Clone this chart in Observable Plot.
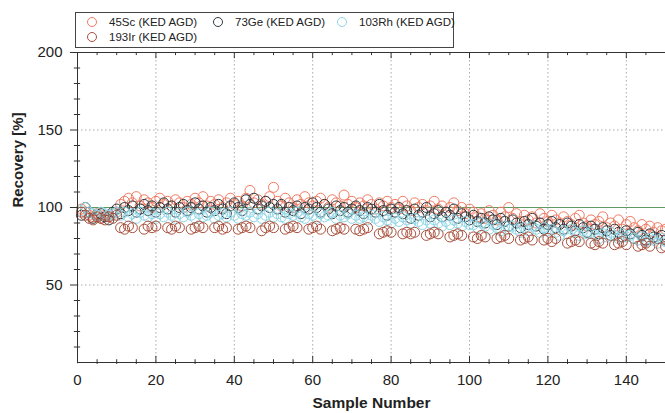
<!DOCTYPE html>
<html>
<head>
<meta charset="utf-8">
<script src="https://cdn.jsdelivr.net/npm/d3@7"></script>
<script src="https://cdn.jsdelivr.net/npm/@observablehq/plot@0.6"></script>
<style>
  body { margin: 0; background: white; font-family: "Liberation Sans", Arial, sans-serif; }
  #wrap { position: relative; width: 665px; height: 413px; overflow: hidden; }
  #legend { position: absolute; left: 75px; top: 12px; width: 377px; height: 34px; border: 1px solid #444; background: white; font-size: 11.5px; color: #222; }
  .item { position: absolute; display: flex; align-items: center; height: 14px; white-space: nowrap; }
  .item svg { margin-right: 11px; }
</style>
</head>
<body>
<div id="wrap"><div id="legend"></div></div>
<script>
const seriesNames = ["45Sc (KED AGD)", "73Ge (KED AGD)", "103Rh (KED AGD)", "193Ir (KED AGD)"];
const seriesColors = ["#f07a62", "#2f3a40", "#8fd6e6", "#a9503c"];

const sc = [99,97,95,94,96,93,95,94,96,97,
  102,104,106,103,107,101,105,103,100,104,
  106,102,104,101,105,103,100,104,102,106,
  103,107,101,104,102,105,100,103,106,102,
  104,101,106,111,103,105,102,104,107,113,
  104,101,106,103,100,105,102,107,103,101,
  104,106,102,100,105,103,101,108,102,104,
  100,103,101,105,102,99,103,101,104,100,
  102,99,104,101,98,103,100,102,98,101,
  104,99,101,97,100,103,98,100,96,99,
  97,94,96,93,98,95,92,97,94,100,
  93,96,91,95,92,94,90,96,93,91,
  95,92,90,94,91,89,93,95,90,88,
  92,89,91,94,87,90,88,92,86,89,
  91,87,85,89,86,88,84,87,85,86];
const ge = [95,100,97,93,95,96,94,92,97,99,
  96,100,98,101,97,99,102,98,101,97,
  100,103,99,101,97,100,102,98,100,103,
  99,101,97,100,98,102,99,96,101,103,
  100,98,105,102,106,99,101,104,100,102,
  99,102,97,100,98,101,96,100,99,103,
  100,97,102,99,96,101,98,100,97,99,
  101,98,96,100,99,97,102,98,95,99,
  97,100,96,98,93,99,95,97,100,94,
  96,98,94,97,95,99,93,96,94,92,
  95,91,93,90,94,92,89,93,91,88,
  92,90,87,91,89,93,88,90,86,89,
  91,87,89,86,90,88,85,89,87,84,
  88,86,83,87,85,82,86,84,81,85,
  83,80,84,82,79,83,81,80,82,79];
const rh = [98,100,97,96,95,97,96,95,96,97,
  95,97,94,96,93,97,95,94,96,93,
  96,94,97,95,93,96,94,97,95,93,
  96,94,95,97,93,95,96,94,97,95,
  93,96,95,97,94,96,93,95,97,94,
  96,94,93,96,95,97,94,93,96,95,
  93,96,94,95,97,93,95,94,96,93,
  95,93,94,92,95,93,91,94,92,90,
  93,91,94,92,90,93,91,89,92,90,
  92,90,88,91,89,92,90,88,91,89,
  89,87,90,88,86,89,87,85,88,86,
  88,86,84,87,85,88,86,84,87,85,
  86,84,82,85,83,86,84,82,85,83,
  84,82,80,83,81,84,82,80,83,81,
  82,80,79,81,78,80,79,77,80,78];
const ir = [97,95,93,92,94,93,92,94,93,95,
  87,86,88,87,null,null,86,88,87,88,
  null,null,87,86,88,87,null,null,86,87,
  88,87,null,null,87,88,86,87,null,null,
  86,87,88,87,null,null,85,87,88,87,
  null,null,86,87,88,87,null,null,86,87,
  88,86,null,null,85,86,87,86,null,null,
  86,85,86,87,null,null,83,84,85,84,
  null,null,83,84,83,84,null,null,82,83,
  84,83,null,null,81,82,83,82,null,null,
  81,80,82,81,null,null,80,81,82,80,
  null,null,79,80,81,79,null,null,79,80,
  78,80,null,null,77,78,79,78,null,null,
  77,76,78,77,null,null,76,77,78,76,
  null,null,75,76,77,75,null,null,74,75];

const xMajor = [0,20,40,60,80,100,120,140];
const xMinor = d3.range(0, 151, 5).filter(v => v % 20 !== 0);
const yLabels = [50,100,150,200];
const yMinor = d3.range(10, 200, 10).filter(v => v % 50 !== 0);

const allSeries = [sc, ge, rh, ir];
const data = allSeries.flatMap((vals, si) => vals.map((v, i) => ({sample: i + 1, value: v, series: seriesNames[si]})))
  .filter(d => d.value != null);

const ink = "#333";
const chart = Plot.plot({
  width: 665, height: 413,
  marginTop: 52, marginBottom: 51, marginLeft: 77, marginRight: 0,
  x: {domain: [0, 150], axis: null},
  y: {domain: [0, 200], axis: null},
  color: {domain: seriesNames, range: seriesColors},
  style: {fontFamily: "'Liberation Sans', Arial, sans-serif", fontSize: "14px", background: "white", color: "#222", overflow: "visible"},
  marks: [
    Plot.ruleX(xMajor.filter(v => v > 0), {stroke: "#aaa", strokeDasharray: "1.5,2.5"}),
    Plot.ruleY([50, 150], {stroke: "#aaa", strokeDasharray: "1.5,2.5"}),
    Plot.ruleY([100], {stroke: "#5f9a62", strokeWidth: 1.2}),
    Plot.dot(data, {x: "sample", y: "value", stroke: "series", r: 5, strokeWidth: 1}),
    Plot.ruleY([200], {stroke: ink}),
    Plot.ruleY([0], {stroke: ink}),
    Plot.ruleX([0], {stroke: ink}),
    Plot.ruleX(xMajor, {x: d => d, y1: -0.8, y2: 4, stroke: ink}),
    Plot.ruleX(xMinor, {x: d => d, y1: -1.3, y2: 1.8, stroke: ink}),
    Plot.ruleX(xMajor, {x: d => d, y1: 200, y2: 196, stroke: ink}),
    Plot.ruleX(xMinor, {x: d => d, y1: 200, y2: 198, stroke: ink}),
    Plot.ruleY(yLabels, {y: d => d, x1: -1.8, x2: 0, stroke: ink}),
    Plot.ruleY(yMinor, {y: d => d, x1: -0.8, x2: 0.8, stroke: ink}),
    Plot.axisX(xMajor, {tickSize: 0, tickPadding: 12, fontSize: 15, label: null}),
    Plot.axisY(yLabels, {tickSize: 0, tickPadding: 15, fontSize: 15, label: null}),
    Plot.text(["Sample Number"], {frameAnchor: "bottom", dy: 45, fontWeight: "bold", fontSize: 15.5}),
    Plot.text(["Recovery [%]"], {frameAnchor: "left", dx: -59, rotate: -90, fontWeight: "bold", fontSize: 15})
  ]
});
const wrap = document.getElementById("wrap");
wrap.insertBefore(chart, wrap.firstChild);

const legend = document.getElementById("legend");
const pos = [[10, 2], [136, 2], [260, 2], [10, 17]];
seriesNames.forEach((name, i) => {
  const it = document.createElement("div");
  it.className = "item";
  it.style.left = pos[i][0] + "px";
  it.style.top = pos[i][1] + "px";
  it.innerHTML = `<svg width="12" height="12"><circle cx="6" cy="6" r="4.5" fill="none" stroke="${seriesColors[i]}" stroke-width="1"/></svg><span>${name}</span>`;
  legend.appendChild(it);
});
</script>
</body>
</html>
